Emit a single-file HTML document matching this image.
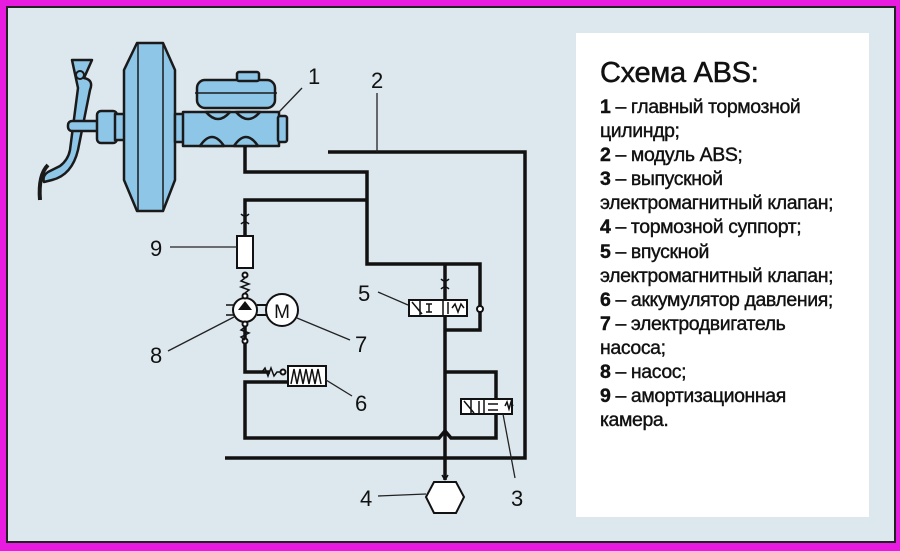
<!DOCTYPE html>
<html><head><meta charset="utf-8"><style>
html,body{margin:0;padding:0;width:900px;height:551px;overflow:hidden;background:#e81ce0}
#f{position:absolute;left:6px;top:6px;width:886px;height:533px;background:#dde7ee;border:2px solid #222}
#p{position:absolute;left:576px;top:33px;width:293px;height:484px;background:#fff}
#t{position:absolute;left:600px;top:55px;font-family:"Liberation Sans","Noto Sans CJK SC",sans-serif;color:#111}
#t h1{margin:0 0 4px 0;font-size:29px;font-weight:normal;letter-spacing:-0.3px;line-height:36px;-webkit-text-stroke:0.5px #111}
#t div{font-size:19.5px;line-height:24.1px;letter-spacing:-0.4px;-webkit-text-stroke:0.4px #111}
svg{position:absolute;left:0;top:0}
</style></head><body>
<div id="f"></div><div id="p"></div>
<div id="t"><h1>Схема ABS:</h1>
<div><b>1</b> – главный тормозной<br>цилиндр;<br><b>2</b> – модуль ABS;<br><b>3</b> – выпускной<br>электромагнитный клапан;<br><b>4</b> – тормозной суппорт;<br><b>5</b> – впускной<br>электромагнитный клапан;<br><b>6</b> – аккумулятор давления;<br><b>7</b> – электродвигатель<br>насоса;<br><b>8</b> – насос;<br><b>9</b> – амортизационная<br>камера.</div></div>
<svg width="900" height="551" viewBox="0 0 900 551">
<g fill="#8ec6e8" stroke="#1a1a1a" stroke-width="2.5" stroke-linejoin="round">
<path d="M72,60 L92,60 L84,78 Q94,80 90,90 L78,150 Q72,175 52,180 L44,182 Q42,176 48,172 L60,166 Q68,160 70,150 L78,88 Z"/>
<rect x="68" y="121" width="32" height="10" rx="4"/>
<rect x="97" y="111" width="20" height="32" rx="4"/>
<rect x="115" y="114" width="10" height="26"/>
<path d="M137,43 L163,43 L175,70 L175,180 L163,211 L137,211 L124,180 L124,70 Z"/>
<rect x="175" y="114" width="10" height="28"/>
<rect x="197" y="80" width="78" height="28" rx="8"/>
<rect x="237" y="72" width="22" height="9" rx="2"/>
<rect x="183" y="112" width="96" height="34"/>
<rect x="278" y="116" width="9" height="26" rx="2"/>
<path d="M200,146 Q212,128 224,146 Z M234,146 Q246,128 258,146 Z M206,112 Q218,126 230,112 Z M236,112 Q248,126 260,112 Z"/>
</g>
<line x1="138" y1="44" x2="138" y2="210" stroke="#1a1a1a" stroke-width="1.5"/>
<line x1="163" y1="44" x2="163" y2="210" stroke="#1a1a1a" stroke-width="1.5"/>
<line x1="195" y1="93" x2="277" y2="93" stroke="#1a1a1a" stroke-width="1.5"/>
<path d="M40,200 Q38,175 48,165" fill="none" stroke="#1a1a1a" stroke-width="4"/>
<circle cx="80" cy="75" r="4" fill="#8ec6e8" stroke="#1a1a1a" stroke-width="2"/>
<g fill="none" stroke="#111" stroke-width="3.5">
<polyline points="245,146 245,172 367,172 367,264 480,264 480,330 445,330"/>
<polyline points="245,236 245,200 367,200"/>
<line x1="445" y1="264" x2="445" y2="480"/>
<polyline points="328,152 525,152 525,458 225,458"/>
<polyline points="245,318 245,372 270,372"/>
<polyline points="287,382 245,382 245,438 439,438 445,431 451,438 496,438 496,413"/>
<polyline points="445,372 496,372 496,399"/>
<line x1="240" y1="305" x2="226" y2="305" stroke-width="1.5"/>
<line x1="240" y1="315" x2="226" y2="315" stroke-width="1.5"/>
<line x1="257" y1="305" x2="267" y2="305" stroke-width="2"/>
<line x1="257" y1="315" x2="267" y2="315" stroke-width="2"/>
</g>
<g fill="#fff" stroke="#111" stroke-width="2">
<rect x="237" y="236" width="16" height="32"/>
<circle cx="245" cy="310" r="12"/>
<circle cx="282" cy="310" r="16"/>
<rect x="288" y="366" width="38" height="20"/>
<rect x="409" y="300" width="58" height="16"/>
<rect x="461" y="399" width="51" height="15"/>
<polygon points="434,482 456,482 464,497 456,513 434,513 426,497"/>
<circle cx="245" cy="275" r="2.5"/><circle cx="245" cy="296" r="2.5"/>
<circle cx="245" cy="324" r="2.5"/><circle cx="245" cy="341" r="2.5"/>
<circle cx="283" cy="372" r="2.5"/><circle cx="480" cy="309" r="3"/>
</g>
<path d="M238,310 L252,310 L245,301 Z" fill="#111"/>
<text x="282" y="318" font-family="Liberation Sans,sans-serif" font-size="19" text-anchor="middle" fill="#111">M</text>
<g fill="none" stroke="#111" stroke-width="1.5">
<path d="M241,214 Q245,218 249,214 M241,224 Q245,220 249,224"/>
<path d="M441,279 Q445,283 449,279 M441,289 Q445,285 449,289"/>
<path d="M245,278 l-4,3 l8,3 l-8,3 l8,3 l-4,3"/>
<path d="M245,327 l-4,3 l8,3 l-4,2 l-4,2 l4,3"/>
<path d="M262,372 l3,-4 l3,8 l3,-8 l3,8 l3,-4 l4,0"/>
<path d="M291,384 l3,-15 l3,15 l3,-15 l3,15 l3,-15 l3,15 l3,-15 l3,15 l3,-15 l3,15"/>
<path d="M412,302 l10,12 M420,300 v16 M426,304 h6 M429,304 v8 M426,312 h6 M443,300 v16 M448,302 v12 M452,308 l3,-4 l3,8 l3,-8 l3,4"/>
<path d="M464,401 l10,12 M471,399 v15 M479,401 v12 M484,399 v15 M488,404 h10 M488,410 h10 M505,406 l2,-4 l2,7 l2,-7 l2,4"/>
<path d="M445,480 l-3,-5 M445,480 l3,-5"/>
</g>
<g stroke="#222" stroke-width="1.3">
<line x1="302" y1="88" x2="279" y2="112"/>
<line x1="377" y1="93" x2="377" y2="152"/>
<line x1="170" y1="247" x2="237" y2="247"/>
<line x1="378" y1="292" x2="408" y2="305"/>
<line x1="168" y1="351" x2="234" y2="317"/>
<line x1="297" y1="318" x2="350" y2="340"/>
<line x1="326" y1="380" x2="352" y2="396"/>
<line x1="378" y1="496" x2="426" y2="494"/>
<line x1="503" y1="414" x2="515" y2="478"/>
</g>
<g font-family="Liberation Sans,sans-serif" font-size="22" fill="#111">
<text x="308" y="84">1</text><text x="371" y="88">2</text>
<text x="150" y="256">9</text><text x="358" y="301">5</text>
<text x="150" y="363">8</text><text x="355" y="352">7</text>
<text x="355" y="411">6</text><text x="360" y="506">4</text>
<text x="511" y="506">3</text>
</g>
</svg>
</body></html>
